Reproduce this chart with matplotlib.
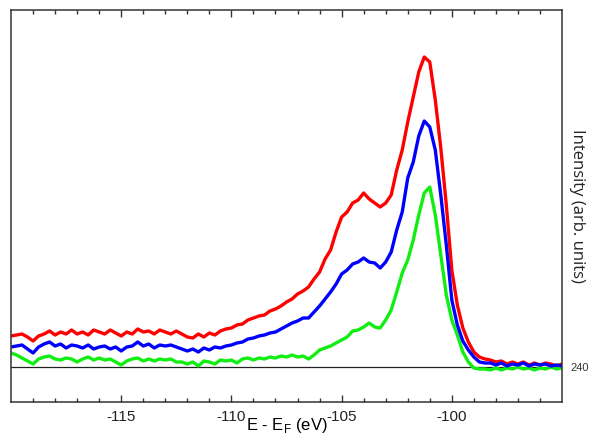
"""XPS-like spectra: three traces on a common baseline (240)."""
import numpy as np
import matplotlib.pyplot as plt

plt.rcParams["axes.unicode_minus"] = False

# energy grid (eV), 0.25 eV steps from -120 to -95
energy = np.arange(-120.0, -94.99, 0.25)

red = [
    271, 272, 273, 270, 266, 271, 273, 276, 272, 275,
    273, 277, 273, 275, 272, 277, 275, 273, 277, 274,
    271, 275, 273, 278, 275, 276, 273, 277, 275, 273,
    276, 273, 270, 269, 273, 270, 274, 272, 276, 278,
    279, 282, 283, 287, 289, 291, 292, 296, 298, 301,
    305, 308, 313, 316, 320, 328, 335, 348, 357, 375,
    390, 395, 404, 407, 414, 408, 404, 400, 404, 412,
    437, 457, 485, 510, 535, 550, 545, 507, 459, 402,
    337, 302, 279, 265, 255, 250, 248, 247, 245, 246,
    243, 245, 243, 245, 242, 244, 242, 244, 243, 241,
    243,
]

blue = [
    260, 261, 262, 258, 254, 260, 263, 265, 261, 263,
    259, 262, 261, 259, 262, 258, 260, 261, 258, 260,
    256, 260, 261, 265, 261, 263, 259, 262, 261, 262,
    260, 258, 256, 258, 255, 259, 257, 260, 259, 261,
    262, 264, 265, 268, 269, 271, 272, 274, 275, 278,
    281, 284, 286, 289, 289, 295, 301, 308, 315, 323,
    333, 337, 343, 345, 349, 345, 344, 339, 345, 355,
    377, 395, 429, 445, 471, 486, 480, 457, 412, 362,
    307, 282, 266, 257, 250, 245, 244, 244, 242, 244,
    241, 243, 242, 244, 241, 243, 242, 243, 241, 242,
    241,
]

green = [
    254, 252, 249, 246, 243, 248, 250, 251, 248, 247,
    249, 248, 245, 248, 250, 247, 249, 247, 248, 245,
    242, 246, 248, 249, 246, 248, 246, 248, 247, 248,
    245, 245, 243, 245, 241, 246, 245, 243, 247, 246,
    247, 244, 248, 249, 247, 249, 248, 250, 249, 251,
    250, 252, 250, 251, 248, 252, 257, 259, 261, 264,
    267, 270, 276, 277, 280, 284, 280, 279, 287, 297,
    315, 334, 347, 367, 392, 414, 420, 392, 352, 312,
    287, 272, 255, 245, 239, 238, 238, 237, 239, 237,
    239, 238, 240, 238, 239, 237, 239, 238, 240, 238,
    239,
]

baseline = 240

fig = plt.figure(figsize=(5.89, 4.37), dpi=100)
ax = fig.add_axes([0.0187, 0.0801, 0.9355, 0.897])

ax.plot(energy, red, color="#ff0000", lw=2.4)
ax.plot(energy, green, color="#11ee11", lw=2.4)
ax.plot(energy, blue, color="#0000ff", lw=2.4)
ax.axhline(baseline, color="#222222", lw=0.9, zorder=1)

ax.set_xlim(-120, -95)
ax.set_ylim(205, 597)

ax.set_xticks([-115, -110, -105, -100])
ax.set_xticks(np.arange(-119, -95, 1), minor=True)
ax.tick_params(axis="x", which="both", direction="in", top=True, bottom=True,
               color="#333333", labelsize=11, pad=6, labelcolor="#222222")
ax.tick_params(axis="x", which="major", length=5, width=1)
ax.tick_params(axis="x", which="minor", length=3, width=1)
for lbl in ax.get_xticklabels():
    lbl.set_family("Liberation Sans")

ax.yaxis.tick_right()
ax.set_yticks([baseline])
ax.tick_params(axis="y", length=0, labelsize=8, pad=6, labelcolor="#333333")
for lbl in ax.get_yticklabels():
    lbl.set_family("Liberation Sans")

for s in ax.spines.values():
    s.set_color("#333333")
    s.set_linewidth(1.1)

ax.set_xlabel(r"E - E$_\mathregular{F}$ (eV)", family="Liberation Sans",
              fontsize=12, va="top")
ax.xaxis.set_label_coords(0.5, -0.036)

ax.yaxis.set_label_position("right")
ax.set_ylabel("Intensity (arb. units)", family="Open Sans", fontsize=12,
              rotation=-90, ha="center", va="center", color="#222222")
ax.yaxis.set_label_coords(1.027, 0.5)

plt.savefig("out.png", dpi=100)
print("Saved out.png")
